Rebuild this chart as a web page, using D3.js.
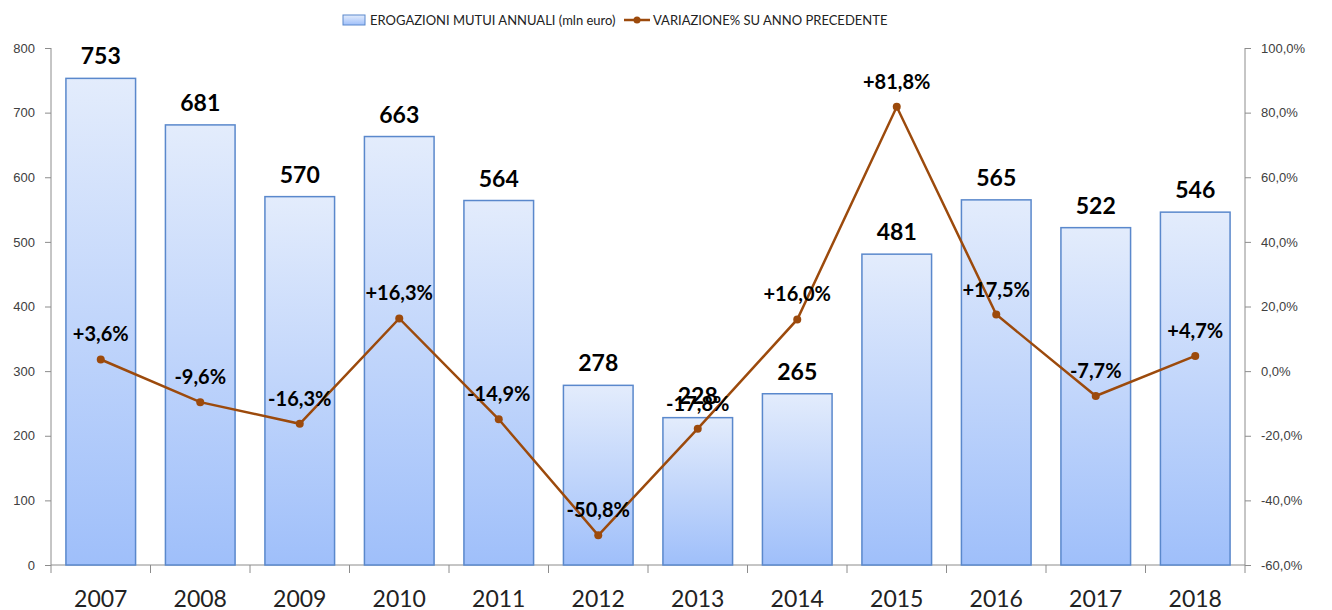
<!DOCTYPE html>
<html>
<head>
<meta charset="utf-8">
<script src="https://cdn.jsdelivr.net/npm/d3@7"></script>
<style>
  body { margin: 0; background: #fff; }
  svg { font-family: Lato, "Open Sans", sans-serif; }
  .axis path, .axis line { stroke: #8c8c8c; }
  .axis text { fill: #404040; font-size: 13px; }
</style>
</head>
<body>
<div id="chart"></div>
<script>
const years = ["2007", "2008", "2009", "2010", "2011", "2012", "2013", "2014", "2015", "2016", "2017", "2018"];
const erogazioni = [753, 681, 570, 663, 564, 278, 228, 265, 481, 565, 522, 546];
const variazione = [3.6, -9.6, -16.3, 16.3, -14.9, -50.8, -17.8, 16.0, 81.8, 17.5, -7.7, 4.7];
const leftTicks = [0, 100, 200, 300, 400, 500, 600, 700, 800];
const rightTicks = [-60, -40, -20, 0, 20, 40, 60, 80, 100];

const W = 1332, H = 610;
const margin = { top: 48, right: 87, bottom: 45, left: 51 };
const width = W - margin.left - margin.right;
const height = H - margin.top - margin.bottom;

const svg = d3.select("#chart").append("svg")
    .attr("width", W)
    .attr("height", H);

const defs = svg.append("defs");
const grad = defs.append("linearGradient")
    .attr("id", "barGrad")
    .attr("x1", 0).attr("y1", 0).attr("x2", 0).attr("y2", 1);
grad.append("stop").attr("offset", "0%").attr("stop-color", "#e3ecfc");
grad.append("stop").attr("offset", "100%").attr("stop-color", "#9fbffa");

const g = svg.append("g")
    .attr("transform", `translate(${margin.left},${margin.top})`);

// scales
const x = d3.scaleBand()
    .domain(years)
    .range([0, width])
    .paddingInner(0.3)
    .paddingOuter(0.15);

const xb = d3.scalePoint()
    .domain(years)
    .range([0, width])
    .padding(0.5);

const y = d3.scaleLinear().domain([0, 800]).range([height, 0]);
const y2 = d3.scaleLinear().domain([-60, 100]).range([height, 0]);

// plain hyphen instead of d3's unicode minus
const fmtPct = v => d3.format(".1f")(v).replace("\u2212", "-").replace(".", ",") + "%";
const fmtSigned = v => (v > 0 ? "+" : "") + fmtPct(v);

// axes
g.append("g")
    .attr("class", "axis")
    .call(d3.axisLeft(y).tickValues(leftTicks).tickSize(6).tickPadding(10))
    .call(a => a.select(".domain").attr("d", `M0,0V${height}`));

g.append("g")
    .attr("class", "axis")
    .attr("transform", `translate(${width},0)`)
    .call(d3.axisRight(y2).tickValues(rightTicks).tickFormat(fmtPct).tickSize(6).tickPadding(10))
    .call(a => a.select(".domain").attr("d", `M0,0V${height}`));

// x axis: boundary ticks
const step = width / years.length;
const xAxis = g.append("g").attr("class", "axis").attr("transform", `translate(0,${height})`);
xAxis.append("line").attr("x1", 0).attr("x2", width).attr("stroke", "#8c8c8c");
xAxis.selectAll(".bt")
    .data(d3.range(years.length + 1))
    .join("line")
    .attr("x1", i => i * step).attr("x2", i => i * step)
    .attr("y1", 0).attr("y2", 8)
    .attr("stroke", "#8c8c8c");
xAxis.selectAll(".yl")
    .data(years)
    .join("text")
    .attr("x", d => xb(d))
    .attr("y", 42)
    .attr("text-anchor", "middle")
    .style("font-size", "23px")
    .style("fill", "#222")
    .text(d => d);

// bars
const data = years.map((yr, i) => ({ yr, v: erogazioni[i], p: variazione[i] }));

g.selectAll(".bar")
    .data(data)
    .join("rect")
    .attr("x", d => x(d.yr))
    .attr("y", d => y(d.v))
    .attr("width", x.bandwidth())
    .attr("height", d => height - y(d.v))
    .attr("fill", "url(#barGrad)")
    .attr("stroke", "#5a88cc")
    .attr("stroke-width", 1.5);

g.selectAll(".bar-label")
    .data(data)
    .join("text")
    .attr("x", d => xb(d.yr))
    .attr("y", d => y(d.v) - 14)
    .attr("text-anchor", "middle")
    .style("font-size", "23px")
    .style("font-weight", "bold")
    .style("fill", "#000")
    .text(d => d.v);

// line
const line = d3.line()
    .x(d => xb(d.yr))
    .y(d => y2(d.p));

g.append("path")
    .datum(data)
    .attr("d", line)
    .attr("fill", "none")
    .attr("stroke", "#9c4a0c")
    .attr("stroke-width", 2.5);

g.selectAll(".pt")
    .data(data)
    .join("circle")
    .attr("cx", d => xb(d.yr))
    .attr("cy", d => y2(d.p))
    .attr("r", 4)
    .attr("fill", "#9c4a0c");

g.selectAll(".pct-label")
    .data(data)
    .join("text")
    .attr("x", d => xb(d.yr))
    .attr("y", d => y2(d.p) - 18)
    .attr("text-anchor", "middle")
    .style("font-size", "20px")
    .style("font-weight", "bold")
    .style("fill", "#000")
    .text(d => fmtSigned(d.p));

// legend
const leg = svg.append("g").attr("transform", "translate(343,20)");
leg.append("rect")
    .attr("x", 0).attr("y", -5).attr("width", 22).attr("height", 10)
    .attr("fill", "url(#barGrad)").attr("stroke", "#5a88cc");
leg.append("text")
    .attr("x", 27).attr("y", 5)
    .style("font-size", "13px").style("fill", "#222")
    .text("EROGAZIONI MUTUI ANNUALI (mln euro)");
leg.append("line")
    .attr("x1", 281).attr("x2", 307).attr("y1", 0).attr("y2", 0)
    .attr("stroke", "#9c4a0c").attr("stroke-width", 2.5);
leg.append("circle").attr("cx", 294).attr("cy", 0).attr("r", 3.5).attr("fill", "#9c4a0c");
leg.append("text")
    .attr("x", 310).attr("y", 5)
    .style("font-size", "13px").style("fill", "#222")
    .text("VARIAZIONE% SU ANNO PRECEDENTE");
</script>
</body>
</html>
